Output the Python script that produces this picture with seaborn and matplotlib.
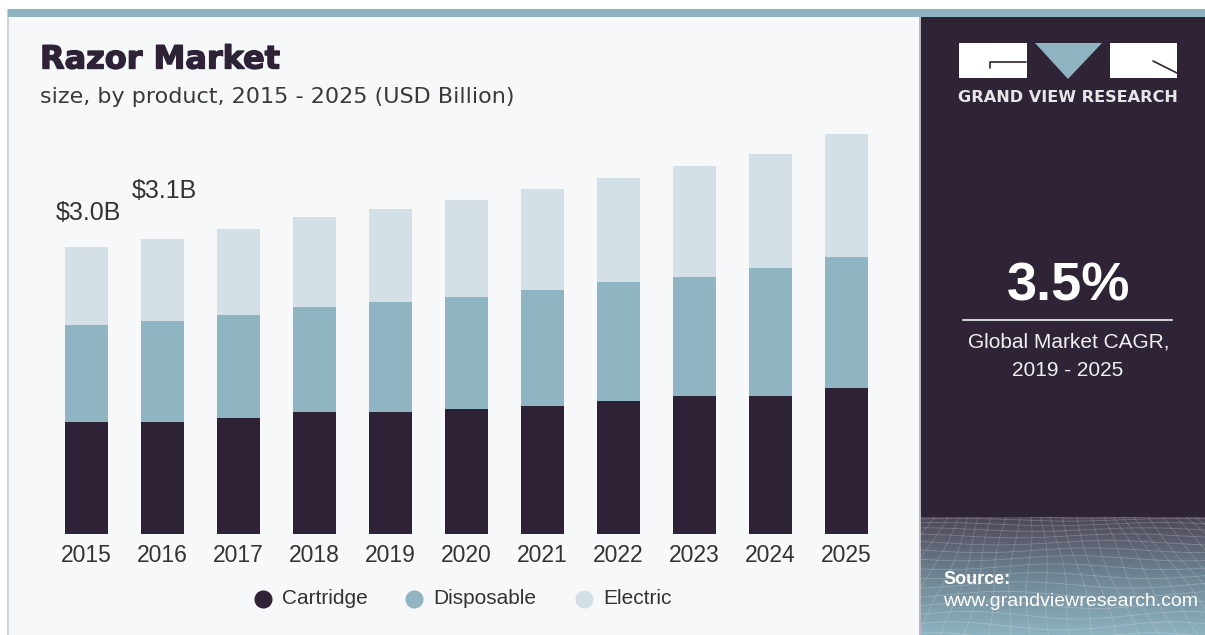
import numpy as np
import pandas as pd
import matplotlib
matplotlib.use("Agg")
import matplotlib.pyplot as plt
import seaborn as sns
from matplotlib.patches import Rectangle, Polygon
from matplotlib.lines import Line2D
from matplotlib.colors import LinearSegmentedColormap
from matplotlib import font_manager
import matplotlib.patheffects as pe

# ---------------- data ----------------
years = ["2015", "2016", "2017", "2018", "2019", "2020", "2021", "2022", "2023", "2024", "2025"]
cartridge = [1.17, 1.17, 1.21, 1.28, 1.28, 1.31, 1.34, 1.39, 1.44, 1.44, 1.53]
disposable = [1.01, 1.06, 1.08, 1.09, 1.15, 1.17, 1.21, 1.24, 1.25, 1.34, 1.36]
electric = [0.82, 0.85, 0.90, 0.94, 0.97, 1.01, 1.06, 1.09, 1.16, 1.19, 1.29]
series_names = ["Cartridge", "Disposable", "Electric"]
value_labels = ["$3.0B", "$3.1B"]
label_offsets = [34, 48]  # px above bar top

C_CART = "#2e2236"
C_DISP = "#8fb4c2"
C_ELEC = "#d3e1e6"
DARK = "#2f2336"
TEAL = "#8fb3c0"
BG = "#f7f8fa"

sns.set_theme(style="white")


def pick(names):
    avail = {f.name for f in font_manager.fontManager.ttflist}
    for n in names:
        if n in avail:
            return n
    return "DejaVu Sans"


SANS = pick(["Liberation Sans", "Arial", "DejaVu Sans"])
plt.rcParams["font.family"] = [SANS, "DejaVu Sans"]

W, H = 1205, 635
fig = plt.figure(figsize=(W / 100, H / 100), dpi=100)
fig.patch.set_facecolor("white")


def fx(px):
    return px / W


def fy(py):
    return 1 - py / H


def frect(x0, y0, x1, y1, **kw):
    fig.add_artist(Rectangle((fx(x0), fy(y1)), fx(x1) - fx(x0), fy(y0) - fy(y1),
                             transform=fig.transFigure, **kw))


# backgrounds
frect(8, 9, 920, 635, facecolor=BG, edgecolor="none", zorder=0)
frect(7, 9, 8.5, 635, facecolor="#d0d3d6", edgecolor="none", zorder=0)
frect(920, 17, 1205, 635, facecolor=DARK, edgecolor="none", zorder=0)
frect(919, 17, 921, 635, facecolor="#b9b6bd", edgecolor="none", zorder=1)
frect(8, 9, 1205, 17, facecolor=TEAL, edgecolor="none", zorder=1)

# ---------------- main chart ----------------
ax = fig.add_axes([fx(29.5), fy(534), (903.5 - 29.5) / W, (534 - 120) / H])
ax.patch.set_alpha(0)

df = pd.DataFrame({"year": years, "cartridge": cartridge,
                   "disposable": disposable, "electric": electric})
df["lvl2"] = df["cartridge"] + df["disposable"]
df["total"] = df["lvl2"] + df["electric"]

bw = 43 / 76
for col, c in [("total", C_ELEC), ("lvl2", C_DISP), ("cartridge", C_CART)]:
    sns.barplot(data=df, x="year", y=col, color=c, width=bw, saturation=1,
                errorbar=None, linewidth=0, ax=ax)

ax.set_xlim(-0.75, 10.75)
ylim_top = 4.327
ax.set_ylim(0, ylim_top)
px_per_unit = (534 - 120) / ylim_top
for i, (lab, off) in enumerate(zip(value_labels, label_offsets)):
    ax.text(i + 0.02, df["total"][i] + off / px_per_unit, lab, ha="center", va="center",
            fontsize=18, color="#333333", family=SANS)

ax.set_xlabel("")
ax.set_ylabel("")
ax.set_yticks([])
ax.tick_params(axis="x", length=0, pad=7, labelsize=16.5, labelcolor="#333333")
for s in ax.spines.values():
    s.set_visible(False)

# legend (manual)
for (mx, tx, name, c) in [(263, 282, series_names[0], C_CART),
                          (414, 433, series_names[1], C_DISP),
                          (584, 603, series_names[2], C_ELEC)]:
    fig.add_artist(Line2D([fx(mx)], [fy(599)], marker="o", ms=12, ls="",
                          color=c, transform=fig.transFigure))
    fig.text(fx(tx), fy(599), name, va="center", ha="left", fontsize=15,
             color="#333333", family=SANS)

# titles
fig.text(fx(40), fy(60), "Razor Market", fontsize=23, fontweight="bold",
         color=C_CART, va="center", ha="left", family="DejaVu Sans",
         path_effects=[pe.withStroke(linewidth=1.0, foreground=C_CART)])
fig.text(fx(40), fy(97), "size, by product, 2015 - 2025 (USD Billion)", fontsize=16,
         color="#3a3a3a", va="center", ha="left", family="DejaVu Sans")

# ---------------- right panel ----------------
# logo
frect(959, 43, 1027, 78, facecolor="white", edgecolor="none", zorder=2)
frect(1110, 43, 1177, 78, facecolor="white", edgecolor="none", zorder=2)
fig.add_artist(Polygon([(fx(1035), fy(43)), (fx(1102), fy(43)), (fx(1068), fy(79))],
                       closed=True, facecolor=TEAL, edgecolor="none",
                       transform=fig.transFigure, zorder=2))
fig.add_artist(Line2D([fx(990), fx(990), fx(1026)], [fy(68), fy(62), fy(62)],
                      color=DARK, lw=1.2, transform=fig.transFigure, zorder=3))
fig.add_artist(Line2D([fx(1153), fx(1177)], [fy(61), fy(73)],
                      color=DARK, lw=1.2, transform=fig.transFigure, zorder=3))
fig.text(fx(1068), fy(98), "GRAND VIEW RESEARCH", fontsize=11.6, fontweight="bold",
         color="#e6e6e8", ha="center", va="center", family="DejaVu Sans")

fig.text(fx(1068), fy(287), "3.5%", fontsize=39, fontweight="bold", color="white",
         ha="center", va="center")
fig.add_artist(Line2D([fx(963), fx(1172)], [fy(320), fy(320)], color="#cfcfd4",
                      lw=1.5, transform=fig.transFigure))
fig.text(fx(1069), fy(342), "Global Market CAGR,", fontsize=15, color="#f0f0f0",
         ha="center", va="center")
fig.text(fx(1068), fy(370), "2019 - 2025", fontsize=15, color="#f0f0f0",
         ha="center", va="center")

# bottom mesh decoration
axw = fig.add_axes([fx(921), 0, fx(1205) - fx(921), (635 - 517) / H])
axw.axis("off")
cmap = LinearSegmentedColormap.from_list("g", ["#8fb2c0", "#6e8593", "#4d4658"])
grad = np.linspace(0, 1, 200).reshape(-1, 1)
axw.imshow(grad, aspect="auto", cmap=cmap, extent=[0, 284, 0, 118], origin="lower", zorder=0)
xs = np.linspace(0, 284, 300)
for k in range(16):
    t = k / 15
    y0 = 118 - 120 * t ** 1.4
    axw.plot(xs, y0 + 3 * np.sin(xs / 35 + k * 0.5) * (0.4 + t), color="white",
             alpha=0.22, lw=0.6, zorder=1)
for k in range(-12, 30):
    x0 = k * 12
    ys = np.linspace(0, 118, 100)
    xv = x0 + (118 - ys) * (k - 9) * 0.08 + 3 * np.sin(ys / 20 + k)
    axw.plot(xv, ys, color="white", alpha=0.18, lw=0.6, zorder=1)
axw.set_xlim(0, 284)
axw.set_ylim(0, 118)

fig.text(fx(943), fy(580), "Source:", fontsize=13, fontweight="bold", color="white",
         ha="left", va="center")
fig.text(fx(943), fy(602), "www.grandviewresearch.com", fontsize=14, color="white",
         ha="left", va="center")

fig.savefig("out.png", dpi=100, facecolor=fig.get_facecolor())
